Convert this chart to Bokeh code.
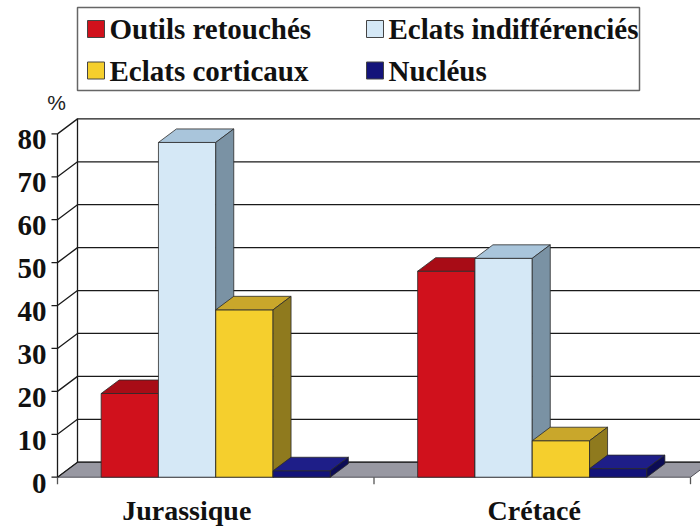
from bokeh.plotting import figure
from bokeh.models import Range1d
from bokeh.core.properties import value
from bokeh.embed import file_html
from bokeh.resources import INLINE

# ---------------- data ----------------
categories = ["Jurassique", "Crétacé"]
series_names = ["Outils retouchés", "Eclats indifférenciés", "Eclats corticaux", "Nucléus"]
outils_retouches = [19.5, 48.0]
eclats_indifferencies = [78.0, 51.0]
eclats_corticaux = [39.0, 8.5]
nucleus = [1.5, 2.0]
y_ticks = [0, 10, 20, 30, 40, 50, 60, 70, 80]
y_tick_labels = ["0", "10", "20", "30", "40", "50", "60", "70", "80"]
values_by_series = [outils_retouches, eclats_indifferencies, eclats_corticaux, nucleus]

# ---------------- styles ----------------
front_colors = ["#D0111C", "#D5E8F6", "#F5CF2D", "#13137A"]
top_colors = ["#A80C16", "#A9C5DB", "#C9A72B", "#1E1E88"]
side_colors = ["#7E0A10", "#7A92A4", "#8F7A1E", "#0C0C55"]
FONT = value("'Liberation Serif', 'Times New Roman', Tinos, serif")

W, H = 700, 526
ORG_X, ORG_Y = 0, 0
# pixel geometry (page coordinates) -> data mapping
PX0, PX_PER_CAT = 57.0, 316.5
PY0, PY_PER_UNIT = 476.7, 4.2917
def X(px):
    return (px - PX0) / PX_PER_CAT
def Y(py):
    return (PY0 - py) / PY_PER_UNIT
def dX(dpx):
    return dpx / PX_PER_CAT
def dY(dpy):
    return dpy / PY_PER_UNIT

p = figure(width=W, height=H, output_backend="svg", toolbar_location=None,
           x_range=Range1d(X(ORG_X), X(ORG_X + W)), y_range=Range1d(Y(ORG_Y + H), Y(ORG_Y)),
           x_axis_type=None, y_axis_type=None, min_border=0,
           outline_line_color=None, background_fill_color="white")
p.xgrid.visible = False
p.ygrid.visible = False

ncat = len(categories)
wdx, wdy = dX(20), dY(15)      # wall depth
bdx, bdy = dX(18), dY(13.5)    # bar depth
far_right = ncat + 0.2

# floor
p.patch([0, ncat, ncat + wdx, wdx], [0, 0, wdy, wdy], fill_color="#9898A2",
        line_color="#505058", line_width=1)

# back wall grid lines and side-wall diagonals
gx, gy = [], []
for v in y_ticks:
    gx.append([0, wdx, far_right]); gy.append([v, v + wdy, v + wdy])
p.multi_line(gx, gy, line_color="#1a1a1a", line_width=1.3)
# back wall left edge
p.line([wdx, wdx], [wdy, y_ticks[-1] + wdy], line_color="#1a1a1a", line_width=1.3)
# front axis
p.line([0, 0], [0, y_ticks[-1]], line_color="#1a1a1a", line_width=1.3)
p.multi_line([[dX(-6), 0] for _ in y_ticks], [[v, v] for v in y_ticks],
             line_color="#1a1a1a", line_width=1.3)
# category tick marks
p.multi_line([[i, i] for i in range(ncat + 1)], [[0, dY(-7)] for _ in range(ncat + 1)],
             line_color="#555555", line_width=1.3)

# bars
bw = dX(57.3)
nser = len(series_names)
for s in range(nser):
    vals = values_by_series[s]
    lefts = [c + 0.5 - nser * bw / 2 + s * bw for c in range(ncat)]
    rights = [l + bw for l in lefts]
    p.quad(left=lefts, right=rights, bottom=[0] * ncat, top=vals,
           fill_color=front_colors[s], line_color="#2a2a2a", line_width=0.8)
    tx = [[l, r, r + bdx, l + bdx] for l, r in zip(lefts, rights)]
    ty = [[v, v, v + bdy, v + bdy] for v in vals]
    p.patches(tx, ty, fill_color=top_colors[s], line_color="#2a2a2a", line_width=0.8)
    sx = [[r, r, r + bdx, r + bdx] for r in rights]
    sy = [[0, v, v + bdy, bdy] for v in vals]
    p.patches(sx, sy, fill_color=side_colors[s], line_color="#2a2a2a", line_width=0.8)

# y tick labels
p.text(x=[dX(-11)] * len(y_ticks), y=y_ticks, text=y_tick_labels,
       text_font=FONT, text_font_style="bold", text_font_size="29px",
       text_align="right", text_baseline="middle", y_offset=6, text_color="#111111")
# % label
p.text(x=[X(56)], y=[Y(102)], text=["%"], text_font=value("Liberation Sans"),
       text_font_size="21px", text_align="center", text_baseline="middle",
       text_color="#222222")
# category labels
cat_offsets = [-29, 2]
p.text(x=[c + 0.5 for c in range(ncat)], y=[Y(510)] * ncat, text=categories,
       x_offset=cat_offsets, text_font=FONT, text_font_style="bold",
       text_font_size="28px", text_align="center", text_baseline="middle",
       text_color="#111111")

# legend box
p.quad(left=[X(77)], right=[X(639)], top=[Y(7)], bottom=[Y(90)],
       fill_color="white", line_color="#666666", line_width=1.5)
leg_sq_x = [X(87), X(366), X(87), X(366)]
leg_y = [Y(28.5), Y(28.5), Y(70), Y(70)]
sq = dX(17)
p.quad(left=leg_sq_x, right=[x + sq for x in leg_sq_x],
       top=[y + dY(8.5) for y in leg_y], bottom=[y - dY(8.5) for y in leg_y],
       fill_color=front_colors, line_color="#444444", line_width=1)
p.text(x=[x + sq + dX(5) for x in leg_sq_x], y=leg_y, text=series_names,
       text_font=FONT, text_font_style="bold", text_font_size="29px",
       text_align="left", text_baseline="middle", text_color="#111111")

open("out.html", "w").write(file_html(p, INLINE))
